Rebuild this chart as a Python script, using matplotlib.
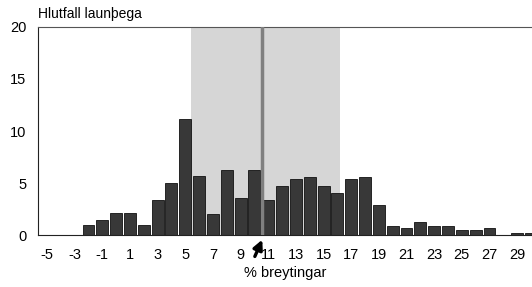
import matplotlib
matplotlib.use('Agg')
import matplotlib.pyplot as plt
import numpy as np

plt.rcParams['font.family'] = ['Liberation Sans', 'DejaVu Sans']
plt.rcParams['axes.unicode_minus'] = False

# % change (bin centres) and share of wage earners
changes = list(range(-5, 31))
shares = [0, 0, 0, 1.0, 1.4, 2.1, 2.1, 1.0, 3.4, 5.0,
          11.2, 5.7, 2.0, 6.25, 3.6, 6.25, 3.4, 4.7, 5.35, 5.6,
          4.7, 4.05, 5.35, 5.6, 2.9, 0.9, 0.7, 1.3, 0.9, 0.9,
          0.5, 0.5, 0.7, 0, 0.15, 0.15]
band = (5.4, 16.2)
marker = 10.55
xticks = list(range(-5, 31, 2))
yticks = [0, 5, 10, 15, 20]

fig = plt.figure(figsize=(5.32, 2.87), dpi=100)
ax = fig.add_axes([0.0714, 0.181, 0.928, 0.725])

ax.axvspan(band[0], band[1], color='#d6d6d6', zorder=0, lw=0)
ax.bar(changes, shares, width=0.86, color='#383838', edgecolor='#111111',
       linewidth=0.6, zorder=2)
ax.axvline(marker, color='#808080', lw=2.5, zorder=3)

ax.annotate('', xy=(marker + 0.1, -0.2), xytext=(9.95, -2.3),
            arrowprops=dict(arrowstyle='-|>', color='black', lw=2.4,
                            mutation_scale=14),
            annotation_clip=False)

ax.set_xlim(-5.65, 30.05)
ax.set_ylim(0, 20)
ax.set_xticks(xticks)
ax.set_yticks(yticks)
ax.tick_params(length=0, labelsize=10.5)
ax.tick_params(axis='x', pad=9)
ax.tick_params(axis='y', pad=8.5)

ax.spines['right'].set_visible(False)
ax.spines['top'].set_color('#555555')
for s in ['left', 'bottom']:
    ax.spines[s].set_color('#222222')

ax.set_xlabel('% breytingar', fontsize=10.5, labelpad=3)
fig.text(0.0714, 0.937, 'Hlutfall launþega', fontsize=10, ha='left', va='baseline')

fig.savefig('out.png', dpi=100)
